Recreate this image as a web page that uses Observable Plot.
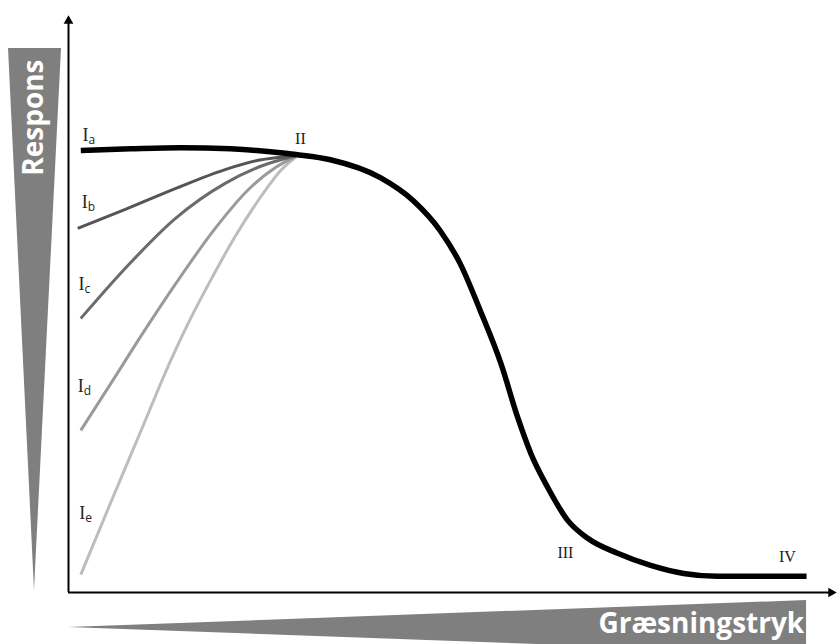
<!DOCTYPE html>
<html>
<head>
<meta charset="utf-8">
<script src="https://cdn.jsdelivr.net/npm/d3@7"></script>
<script src="https://cdn.jsdelivr.net/npm/@observablehq/plot@0.6"></script>
<style>
  html, body { margin: 0; padding: 0; background: #fff; overflow: hidden; }
</style>
</head>
<body>
<div id="chart"></div>
<script>
// Response curves (x = grazing pressure 0–100, y = response 0–100)
const curveMain = [[1.6,76.6],[8.1,76.9],[14.6,77.1],[21.1,76.9],[26.3,76.4],[29.6,75.9],[34.1,75.0],[40.6,71.9],[44.9,67.9],[48.4,62.7],[51.0,57.0],[53.6,48.9],[56.3,39.7],[58.5,30.3],[60.2,24.1],[62.4,18.2],[65.0,12.5],[67.6,9.4],[71.5,6.8],[75.8,4.7],[80.1,3.3],[84.5,2.8],[90.1,2.8],[96.1,2.8]];
const curveIb = [[1.2,63.1],[7.4,66.4],[13.9,70.0],[20.4,73.3],[24.7,74.9],[29.6,75.7]];
const curveIc = [[1.6,47.5],[7.4,56.2],[13.9,64.8],[20.4,70.9],[25.3,74.0],[29.6,75.7]];
const curveId = [[1.6,28.1],[5.5,36.2],[10.0,45.6],[13.9,53.4],[19.1,63.1],[23.4,69.8],[27.0,73.7],[29.6,75.6]];
const curveIe = [[1.6,3.1],[5.5,15.6],[9.4,27.9],[13.3,40.2],[15.9,47.5],[18.5,54.1],[21.7,61.7],[25.0,68.5],[27.6,73.1],[29.8,75.7]];

// Start-point labels (I with subscript)
const startSubs = ["a","b","c","d","e"];
const startX = [2.2, 2.1, 1.7, 1.6, 1.8];
const startY = [79.2, 67.6, 53.4, 35.7, 13.7];

// Phase labels
const phaseLabels = ["II","III","IV"];
const phaseX = [30.2, 64.7, 93.6];
const phaseY = [78.7, 6.8, 6.1];

// Axis titles
const yTitle = "Respons";
const xTitle = "Græsningstryk";

const startLabels = startSubs.map((s, i) => ({sub: s, x: startX[i], y: startY[i]}));
const phases = phaseLabels.map((t, i) => ({t, x: phaseX[i], y: phaseY[i]}));

// wedge shapes (decorative gradient triangles beside the axes)
const leftWedge = [
  {y: 94.3, x1: -7.81, x2: -0.91},
  {y: 0.35, x1: -4.43, x2: -4.43}
];
const bottomWedge = [
  {x: 0, y1: -6.07, y2: -6.07},
  {x: 96.1, y1: -1.39, y2: -10.7}
];

const lineOpts = {x: d => d[0], y: d => d[1], curve: "monotone-x", strokeLinecap: "butt", strokeLinejoin: "round"};

const chart = Plot.plot({
  width: 838,
  height: 644,
  marginLeft: 68,
  marginRight: 2,
  marginTop: 15,
  marginBottom: 52,
  x: {domain: [0, 100], axis: null},
  y: {domain: [0, 100], axis: null},
  style: {background: "white", overflow: "visible"},
  marks: [
    Plot.areaX(leftWedge, {y: "y", x1: "x1", x2: "x2", fill: "#7f7f7f", curve: "linear"}),
    Plot.areaY(bottomWedge, {x: "x", y1: "y1", y2: "y2", fill: "#7f7f7f", curve: "linear"}),
    Plot.text([yTitle], {x: -4.43, y: 82.3, text: d => d, rotate: -90, fill: "white", fontSize: 28, fontWeight: "bold", fontFamily: "Open Sans", textAnchor: "middle"}),
    Plot.text([xTitle], {x: 95.8, y: -7.1, text: d => d, fill: "white", fontSize: 28, fontWeight: "bold", fontFamily: "Open Sans", textAnchor: "end", lineAnchor: "bottom"}),
    // axes with arrowheads
    Plot.ruleX([0], {y1: 0, y2: 99, stroke: "black", strokeWidth: 2}),
    Plot.ruleY([0], {x1: 0, x2: 99.4, stroke: "black", strokeWidth: 2}),
    Plot.dot([[0, 99.06]], {x: d => d[0], y: d => d[1], symbol: "triangle", r: 3.6, fill: "black", stroke: null}),
    Plot.dot([[99.3, 0]], {x: d => d[0], y: d => d[1], symbol: "triangle", r: 3.6, fill: "black", stroke: null, rotate: 90}),
    // curves
    Plot.line(curveIe, {...lineOpts, stroke: "#bdbdbd", strokeWidth: 3}),
    Plot.line(curveId, {...lineOpts, stroke: "#9a9a9a", strokeWidth: 3}),
    Plot.line(curveIc, {...lineOpts, stroke: "#6b6b6b", strokeWidth: 3}),
    Plot.line(curveIb, {...lineOpts, stroke: "#555555", strokeWidth: 3}),
    Plot.line(curveMain, {...lineOpts, stroke: "black", strokeWidth: 5.5}),
    // labels
    Plot.text(startLabels, {x: "x", y: "y", text: () => "I", fontFamily: "Liberation Serif", fontSize: 18, fill: "#222", textAnchor: "middle"}),
    Plot.text(startLabels, {x: "x", y: "y", text: "sub", fontFamily: "Open Sans", fontSize: 12, fill: "#222", textAnchor: "start", dx: 3, dy: 5}),
    Plot.text(phases, {x: "x", y: "y", text: "t", fontFamily: "Liberation Serif", fontSize: 16, fill: "#222", textAnchor: "middle"})
  ]
});
document.getElementById("chart").appendChild(chart);
</script>
</body>
</html>
